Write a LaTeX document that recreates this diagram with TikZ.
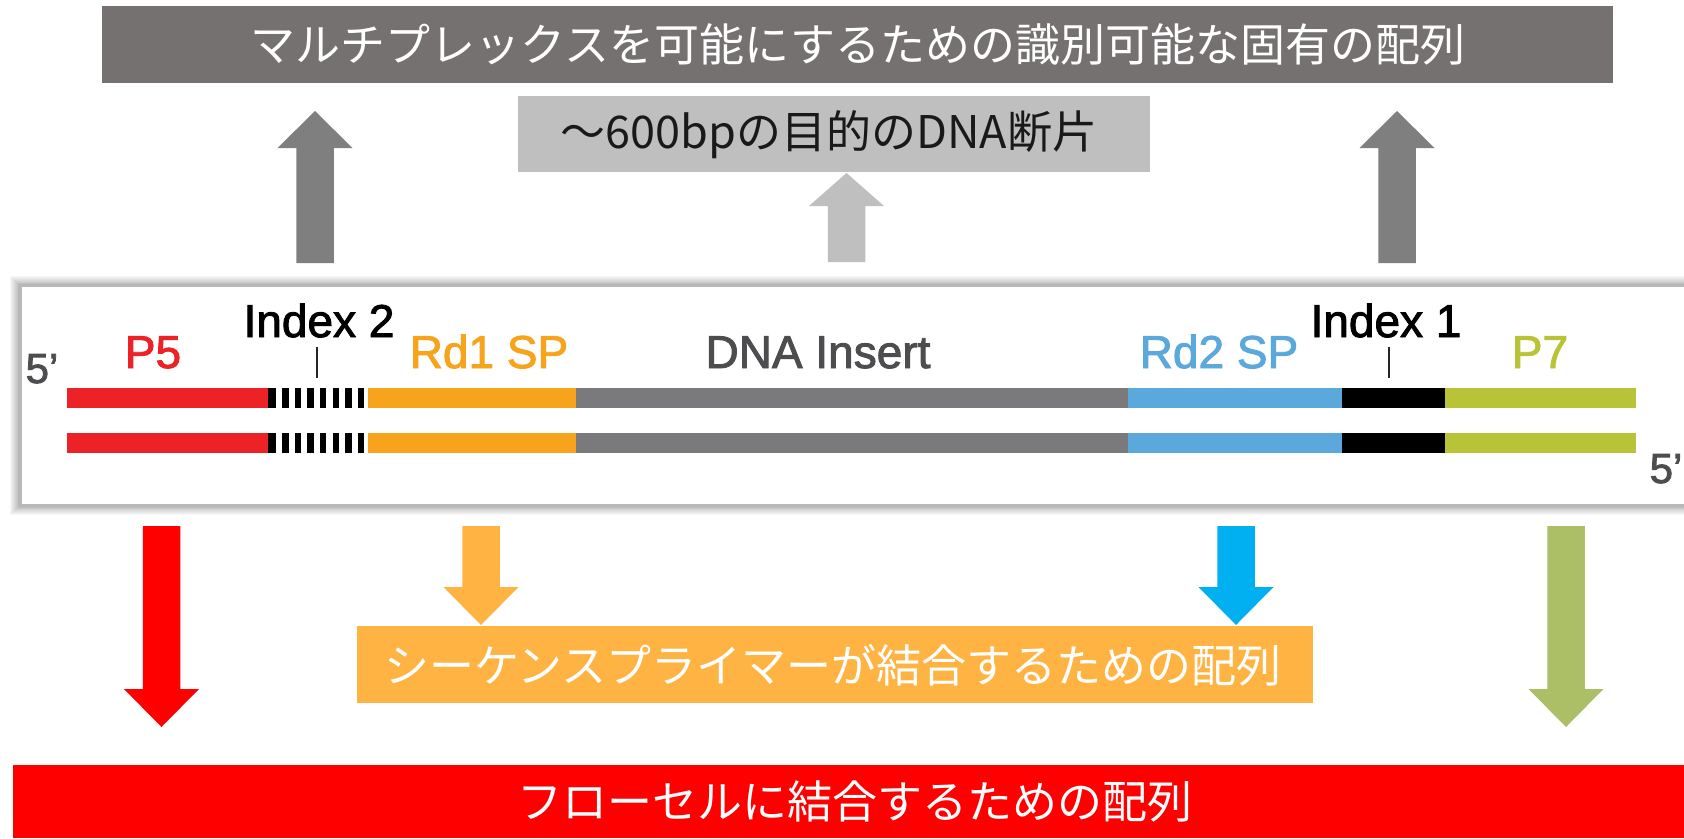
\documentclass[tikz,border=0pt]{standalone}
\usepackage{fontspec}
\setmainfont{Liberation Sans}
\newfontfamily\lblfont{Liberation Sans}[BoldFont={Liberation Sans}, BoldFeatures={FakeBold=2}]
\newfontfamily\jp{Noto Sans CJK JP}
\usetikzlibrary{calc}
\definecolor{topbox}{HTML}{767171}
\definecolor{darkarr}{HTML}{7F7F7F}
\definecolor{lightbox}{HTML}{BFBFBF}
\definecolor{orgbox}{HTML}{FFB343}
\definecolor{arrblue}{HTML}{00B0F0}
\definecolor{arrgreen}{HTML}{ADBF66}
\definecolor{barred}{HTML}{EC2227}
\definecolor{barorange}{HTML}{F7A41C}
\definecolor{bargray}{HTML}{7A7A7C}
\definecolor{barblue}{HTML}{5BA8DC}
\definecolor{bargreen}{HTML}{B9C337}
\definecolor{lblgray}{HTML}{4D4D4F}
\newcommand{\blockarrow}[5]{%
  \fill[#1] (#2-18.75,#3) -- (#2-18.75,#4) -- (#2-37.5,#4) -- (#2,#5)
    -- (#2+37.5,#4) -- (#2+18.75,#4) -- (#2+18.75,#3) -- cycle;}
\tikzset{
  jptext/.style={font=\jp\fontsize{45}{54}\selectfont, inner sep=0pt},
  lbl/.style={font=\lblfont\bfseries\fontsize{46}{55}\selectfont, anchor=base, inner sep=0pt},
  prime/.style={font=\lblfont\bfseries\fontsize{42}{50}\selectfont, anchor=base, inner sep=0pt, text=lblgray},
}
\begin{document}
\begin{tikzpicture}[x=1pt,y=-1pt]
\useasboundingbox (0,0) rectangle (1684,838);
% top boxes
\fill[topbox] (102,6) rectangle (1613,83);
\node[jptext, text=white] (tbtext) at (858,44) {マルチプレックスを可能にするための識別可能な固有の配列};
\fill[lightbox] (518,96) rectangle (1150,172);
\node[jptext, text=black!90] (mbtext) at (829,135) {〜600bpの目的のDNA断片};
% up arrows
\blockarrow{darkarr}{315}{263}{148}{111}
\blockarrow{lightbox}{846.5}{262}{206}{173}
\blockarrow{darkarr}{1397}{263}{148}{111}
% panel shadow
\foreach \i in {1,...,12}{
  \fill[black, opacity=0.03] (22-\i,287-0.9*\i) rectangle (1700,504+0.9*\i);
}
\fill[black!28] (18,284) rectangle (1700,507);
\fill[white] (22,287) rectangle (1700,504);
% labels
\node[prime] (fivel) at (42,383) {5’};
\node[prime] (fiver) at (1666,483) {5’};
\node[lbl, text=barred] (p5) at (153,368) {P5};
\node[lbl, text=black] (ix2) at (319,337) {Index 2};
\node[lbl, text=barorange] (rd1) at (489,368) {Rd1 SP};
\node[lbl, text=lblgray] (ins) at (818,368) {DNA Insert};
\node[lbl, text=barblue] (rd2) at (1219,368) {Rd2 SP};
\node[lbl, text=black] (ix1) at (1386,337) {Index 1};
\node[lbl, text=bargreen] (p7) at (1540,368) {P7};
\draw[line width=2pt, black!85] (317,347) -- (317,378);
\draw[line width=2pt, black!85] (1389,347) -- (1389,378);
% strands
\foreach \yt in {388,433}{
  \fill[barred] (67,\yt) rectangle (268,\yt+19.5);
  \fill[black] (268,\yt) rectangle (276,\yt+19.5);
  \foreach \k in {0,...,6}{
    \fill[black] (282+12.65*\k,\yt) rectangle (288.5+12.65*\k,\yt+19.5);
  }
  \fill[barorange] (368,\yt) rectangle (576,\yt+19.5);
  \fill[bargray] (576,\yt) rectangle (1128,\yt+19.5);
  \fill[barblue] (1128,\yt) rectangle (1342,\yt+19.5);
  \fill[black] (1342,\yt) rectangle (1445,\yt+19.5);
  \fill[bargreen] (1445,\yt) rectangle (1636,\yt+19.5);
}
% down arrows
\blockarrow{red}{161.5}{526}{689}{727}
\blockarrow{orgbox}{481}{526}{587}{625}
\blockarrow{arrblue}{1236}{526}{587}{625}
\blockarrow{arrgreen}{1566}{526}{689}{727}
% bottom boxes
\fill[orgbox] (357,626) rectangle (1313,703);
\node[jptext, text=white] (obtext) at (833,665) {シーケンスプライマーが結合するための配列};
\fill[red] (13,765) rectangle (1684,838);
\node[jptext, text=white] (rbtext) at (855,801) {フローセルに結合するための配列};
\end{tikzpicture}
\end{document}
